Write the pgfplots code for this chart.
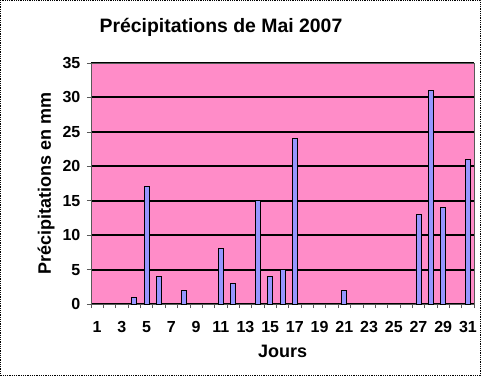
\documentclass[border=0pt]{standalone}
\usepackage{pgfplots}
\pgfplotsset{compat=1.18}
\usepackage{fontspec}
\setmainfont{Liberation Sans}
\definecolor{rosebg}{RGB}{255,140,200}
\definecolor{barfill}{RGB}{150,150,255}
\begin{document}
\begin{tikzpicture}[x=1pt,y=1pt]
\begin{axis}[
  name=ax, anchor=south west, at={(0,0)},
  scale only axis, width=383pt, height=241pt,
  xmin=0.5, xmax=31.5, ymin=0, ymax=35,
  axis background/.style={fill=rosebg},
  axis line style={draw=gray!70!black, line width=0.8pt},
  ybar, bar width=5pt,
  xtick={1,3,...,31}, major x tick style={draw=none},
  minor xtick={0.5,1.5,...,31.5},
  minor x tick style={draw=gray!70!black, line width=0.6pt},
  minor tick length=4pt,
  ytick={0,5,...,35},
  major y tick style={draw=gray!70!black, line width=0.6pt},
  major tick length=4pt,
  tick align=outside,
  tick pos=left,
  ymajorgrids, grid style={black, line width=2pt},
  ticklabel style={font=\bfseries\fontsize{16}{17}\selectfont},
  /pgf/number format/assume math mode=true,
  xticklabel style={yshift=-10pt},
  yticklabel style={xshift=-3pt},
  xlabel={\bfseries\fontsize{18}{20}\selectfont Jours},
  ylabel={\bfseries\fontsize{18}{20}\selectfont Précipitations en mm},
  xlabel style={yshift=-5pt},
  ylabel style={yshift=1pt},
  clip=false,
]
\addplot[fill=barfill, draw=black, line width=0.9pt] coordinates {
(4,1) (5,17) (6,4) (8,2) (11,8) (12,3) (14,15) (15,4) (16,5) (17,24)
(21,2) (27,13) (28,31) (29,14) (31,21)};
\end{axis}
\draw[densely dotted, line width=0.8pt] (-90.5pt,-71.5pt) rectangle (389.5pt,303.5pt);
\node[font=\bfseries\fontsize{19.4}{21}\selectfont] at (130pt,277pt) {Précipitations de Mai 2007};
\end{tikzpicture}
\end{document}
